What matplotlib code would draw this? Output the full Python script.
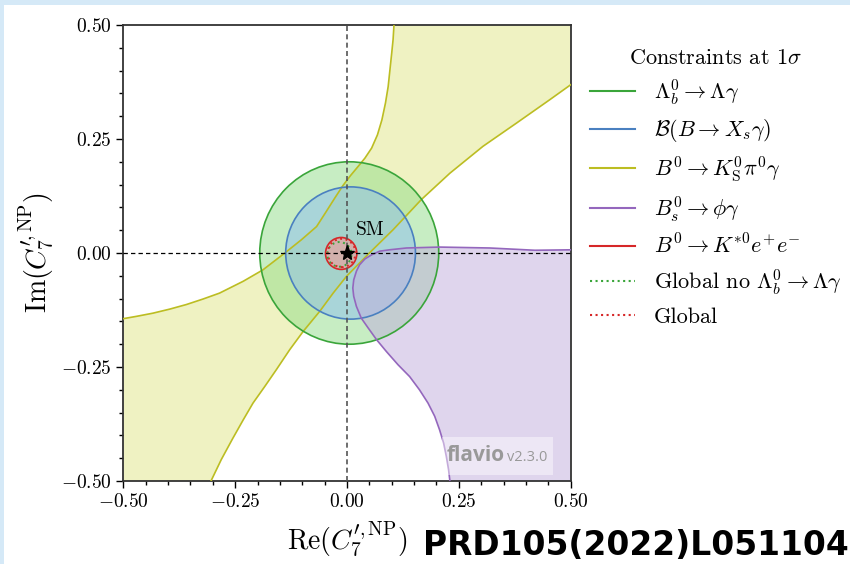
import matplotlib
matplotlib.use("Agg")
import matplotlib.pyplot as plt
from matplotlib.patches import Circle, Polygon, Rectangle
from matplotlib.lines import Line2D

plt.rcParams['font.family'] = 'serif'
plt.rcParams['font.serif'] = ['cmr10']
plt.rcParams['mathtext.fontset'] = 'cm'
plt.rcParams['axes.unicode_minus'] = False

# ---------------- data ----------------
# circular 1-sigma regions: (centre Re, centre Im, radius)
lambda_b = (0.005, 0.0, 0.200)
bxsgamma = (0.008, 0.0, 0.145)
kstar_ee = (-0.013, -0.001, 0.035)
global_no_lb = (-0.017, -0.003, 0.027)
global_all = (-0.012, 0.0, 0.031)

# B0 -> K_S pi0 gamma band: upper-left boundary
kspi_up_re = [0.105, 0.103, 0.100, 0.096, 0.092, 0.086, 0.078, 0.068, 0.055,
              0.040, 0.025, 0.008, -0.009, -0.027, -0.047, -0.068, -0.102,
              -0.139, -0.188, -0.232, -0.285, -0.322, -0.359, -0.396, -0.434,
              -0.471, -0.500]
kspi_up_im = [0.500, 0.468, 0.439, 0.402, 0.365, 0.329, 0.292, 0.259, 0.230,
              0.208, 0.190, 0.170, 0.148, 0.121, 0.090, 0.058, 0.029,
              0.000, -0.037, -0.062, -0.088, -0.101, -0.113, -0.123, -0.132,
              -0.139, -0.144]
# lower-right boundary
kspi_lo_re = [-0.304, -0.281, -0.255, -0.232, -0.210, -0.184, -0.158, -0.128,
              -0.098, -0.061, -0.031, -0.001, 0.050, 0.103, 0.166, 0.230,
              0.304, 0.379, 0.453, 0.500]
kspi_lo_im = [-0.500, -0.453, -0.406, -0.366, -0.329, -0.293, -0.256, -0.212,
              -0.172, -0.128, -0.088, -0.051, 0.000, 0.051, 0.117, 0.175,
              0.234, 0.285, 0.336, 0.369]

# Bs -> phi gamma boundary
bsphi_re = [0.500, 0.420, 0.319, 0.207, 0.133, 0.095, 0.073, 0.055, 0.040,
            0.028, 0.021, 0.015, 0.013, 0.015, 0.021, 0.032, 0.047, 0.066,
            0.088, 0.114, 0.140, 0.162, 0.181, 0.196, 0.207, 0.216, 0.222,
            0.227, 0.230]
bsphi_im = [0.007, 0.006, 0.011, 0.013, 0.011, 0.007, 0.004, -0.004, -0.013,
            -0.026, -0.040, -0.059, -0.077, -0.095, -0.117, -0.143, -0.164, -0.190,
            -0.216, -0.245, -0.271, -0.300, -0.329, -0.358, -0.388, -0.417, -0.446,
            -0.475, -0.500]

sm_point = (0.0, 0.0)

ticks = [-0.5, -0.25, 0.0, 0.25, 0.5]
tick_labels = [r'$-0.50$', r'$-0.25$', r'$0.00$', r'$0.25$', r'$0.50$']

labels = [r'$\Lambda_b^0 \to \Lambda\gamma$',
          r'$\mathcal{B}(B \to X_s\gamma)$',
          r'$B^0 \to K_{\rm S}^0\pi^0\gamma$',
          r'$B_s^0 \to \phi\gamma$',
          r'$B^0 \to K^{*0}e^{+}e^{-}$',
          r'Global no $\Lambda_b^0 \to \Lambda\gamma$',
          r'Global']

# line colours and (pastel) fill colours
c_green, f_green = '#3aa53a', '#91dd89'
c_blue, f_blue = '#4a80c0', '#8cbef0'
c_yellow, f_yellow = '#bcbd22', '#e1e787'
c_purple, f_purple = '#9467bd', '#c1addd'
c_red, f_red = '#d62728', '#ff9090'
fill_alpha = 0.5

# ---------------- figure ----------------
fig = plt.figure(figsize=(8.5, 5.64), dpi=100, facecolor='#d5e9f7')
fig.add_artist(Rectangle((4 / 850, 0), 1, 1 - 5 / 564, transform=fig.transFigure,
                         facecolor='white', edgecolor='none', zorder=-10))

ax = fig.add_axes([123.3 / 850, 83 / 564, 447.4 / 850, 456 / 564])
ax.set_xlim(-0.5, 0.5)
ax.set_ylim(-0.5, 0.5)

# yellow band
poly_re = kspi_up_re + [-0.5] + kspi_lo_re + [0.5]
poly_im = kspi_up_im + [-0.5] + kspi_lo_im + [0.5]
ax.add_patch(Polygon(list(zip(poly_re, poly_im)), closed=True,
                     facecolor=f_yellow, alpha=fill_alpha, edgecolor='none', zorder=1))
ax.plot(kspi_up_re, kspi_up_im, color=c_yellow, lw=1.2, zorder=3)
ax.plot(kspi_lo_re, kspi_lo_im, color=c_yellow, lw=1.2, zorder=3)

# green circle
cx, cy, r = lambda_b
ax.add_patch(Circle((cx, cy), r, facecolor=f_green, alpha=fill_alpha, edgecolor='none', zorder=1))
ax.add_patch(Circle((cx, cy), r, facecolor='none', edgecolor=c_green, lw=1.2, zorder=3))
# blue circle
cx, cy, r = bxsgamma
ax.add_patch(Circle((cx, cy), r, facecolor=f_blue, alpha=fill_alpha, edgecolor='none', zorder=1))
ax.add_patch(Circle((cx, cy), r, facecolor='none', edgecolor=c_blue, lw=1.2, zorder=3))

# purple region
p_re = bsphi_re + [0.5]
p_im = bsphi_im + [-0.5]
ax.add_patch(Polygon(list(zip(p_re, p_im)), closed=True,
                     facecolor=f_purple, alpha=fill_alpha, edgecolor='none', zorder=1))
ax.plot(bsphi_re, bsphi_im, color=c_purple, lw=1.2, zorder=3)

# red circle
cx, cy, r = kstar_ee
ax.add_patch(Circle((cx, cy), r, facecolor=f_red, alpha=fill_alpha, edgecolor='none', zorder=2))
ax.add_patch(Circle((cx, cy), r, facecolor='none', edgecolor=c_red, lw=1.2, zorder=3))

# global contours (dotted)
cx, cy, r = global_no_lb
ax.add_patch(Circle((cx, cy), r, facecolor='none', edgecolor=c_green, lw=1.4,
                    linestyle=(0, (1, 1.8)), zorder=4))
cx, cy, r = global_all
ax.add_patch(Circle((cx, cy), r, facecolor='none', edgecolor=c_red, lw=1.4,
                    linestyle=(0, (1, 1.8)), zorder=4))

# reference lines
ax.axhline(0, color='k', lw=0.9, ls=(0, (3.5, 2.5)), zorder=5)
ax.axvline(0, color='#555555', lw=1.2, ls=(0, (3, 2)), zorder=5)

ax.plot(*sm_point, marker='*', color='k', ms=11, zorder=6)
ax.text(0.02, 0.04, 'SM', fontsize=14, ha='left', va='baseline', zorder=6)

# ticks
ax.set_xticks(ticks)
ax.set_xticklabels(tick_labels, fontsize=14)
ax.set_yticks(ticks)
ax.set_yticklabels(tick_labels, fontsize=14)
ax.set_xticks([t / 20 for t in range(-10, 11)], minor=True)
ax.set_yticks([t / 20 for t in range(-10, 11)], minor=True)
ax.tick_params(which='major', length=5, width=1.0, direction='out')
ax.tick_params(which='minor', length=3, width=1.0, direction='out')
for s in ax.spines.values():
    s.set_linewidth(1.3)
    s.set_color('#333333')

ax.set_xlabel(r'$\mathrm{Re}(C_7^{\prime,\mathrm{NP}})$', fontsize=20, labelpad=6)
ax.set_ylabel(r'$\mathrm{Im}(C_7^{\prime,\mathrm{NP}})$', fontsize=20, labelpad=4)

# watermark
ax.add_patch(Rectangle((0.713, 0.013), 0.247, 0.083, transform=ax.transAxes,
                       facecolor='white', alpha=0.45, edgecolor='none', zorder=7))
ax.text(0.722, 0.044, 'flavio', transform=ax.transAxes, fontsize=15,
        family='Open Sans', weight='bold', color='#999999', zorder=8, va='baseline')
ax.text(0.858, 0.044, 'v2.3.0', transform=ax.transAxes, fontsize=10.5,
        family='Open Sans', color='#999999', zorder=8, va='baseline')

# legend
styles = ['-', '-', '-', '-', '-', ':', ':']
colors = [c_green, c_blue, c_yellow, c_purple, c_red, c_green, c_red]
handles = [Line2D([], [], color=c, ls=s, lw=1.5) for c, s in zip(colors, styles)]
leg = fig.legend(handles, labels, loc='upper left', bbox_to_anchor=(0.671, 0.950),
                 frameon=False, fontsize=16, title=r'Constraints at $1\sigma$',
                 title_fontsize=16, handlelength=2.0, handletextpad=0.85,
                 labelspacing=0.45)

fig.text(0.998, 0.016, 'PRD105(2022)L051104', ha='right', va='baseline',
         fontsize=23.7, weight='bold', family='DejaVu Sans', color='black')

fig.savefig('out.png', dpi=100, facecolor=fig.get_facecolor())
